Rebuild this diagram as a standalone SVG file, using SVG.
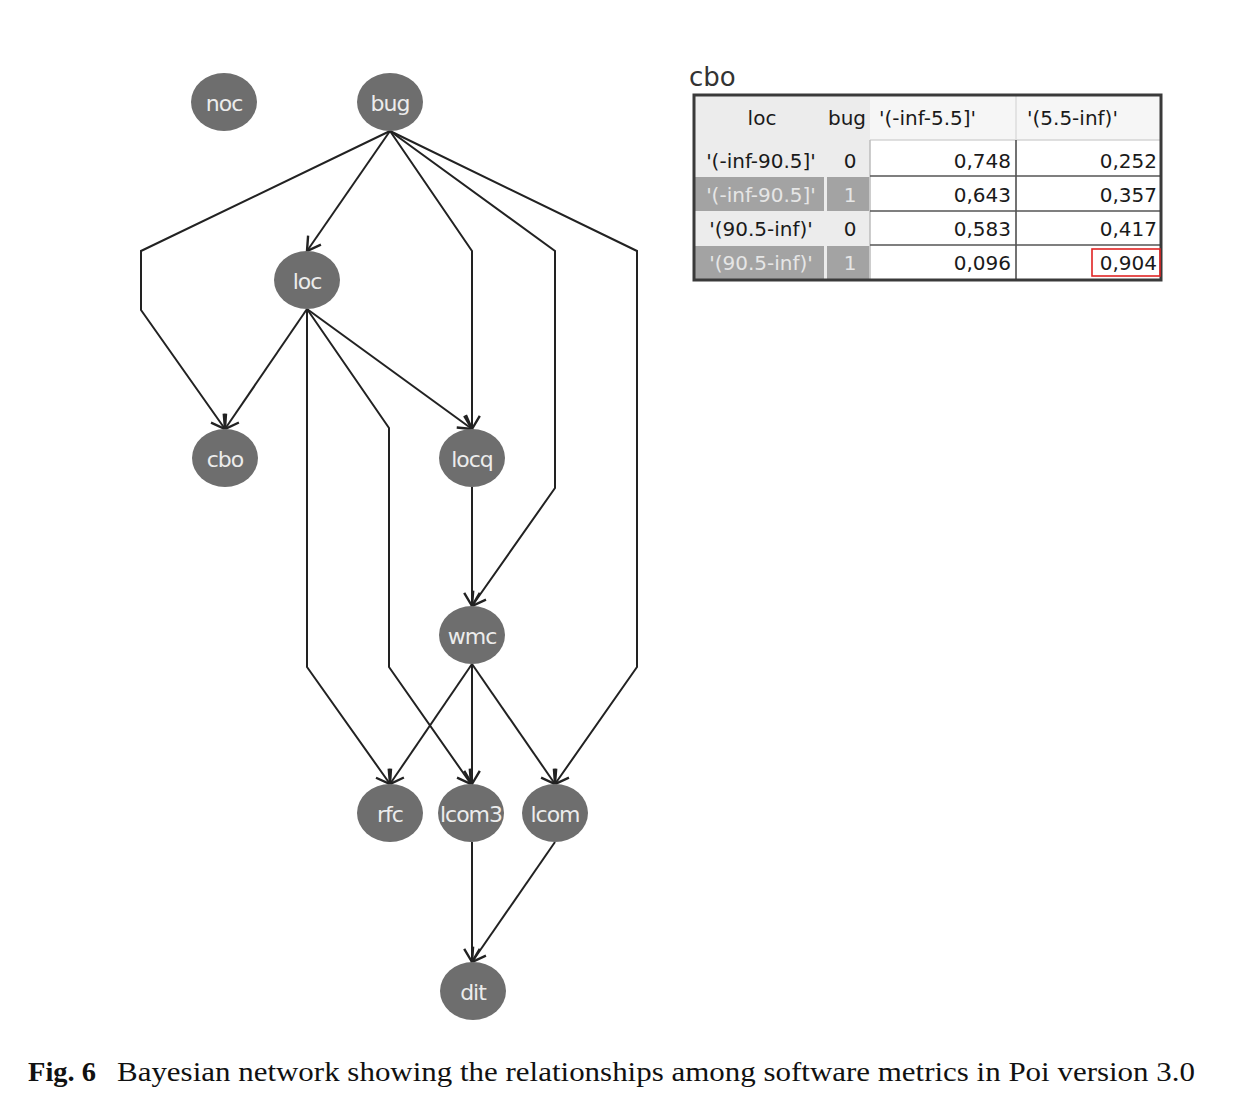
<svg xmlns="http://www.w3.org/2000/svg" width="1248" height="1108" viewBox="0 0 1248 1108">
<defs>
<marker id="arr" markerUnits="userSpaceOnUse" markerWidth="24" markerHeight="24" refX="0" refY="0" viewBox="-14 -10 16 20" orient="auto">
<path d="M-11,-6.5 L0,0 L-11,6.5" fill="none" stroke="#222" stroke-width="2"/>
</marker>
<style>
.edge{fill:none;stroke:#222;stroke-width:2;marker-end:url(#arr)}
.node ellipse{fill:#6e6e6e}
.node text{fill:#ececec;font-family:"DejaVu Sans",sans-serif;font-size:22px;text-anchor:middle;letter-spacing:-1px}
.tt{font-family:"DejaVu Sans",sans-serif;font-size:20px;fill:#1a1a1a}
.tl{font-family:"DejaVu Sans",sans-serif;font-size:20px;fill:#e6e6e6}
.num{font-family:"DejaVu Sans",sans-serif;font-size:20px;fill:#1a1a1a;text-anchor:end}
.cap{font-family:"Liberation Serif",serif;font-size:28px;fill:#111}
</style>
</defs>
<rect width="1248" height="1108" fill="#ffffff"/>

<g id="connectors">
<path class="edge" d="M390,131 L141,251 L141,310 L225,429"/>
<path class="edge" d="M390,131 L307,251"/>
<path class="edge" d="M390,131 L472,251 L472,429"/>
<path class="edge" d="M390,131 L555,251 L555,488 L472,606"/>
<path class="edge" d="M390,131 L637,251 L637,667 L555,784"/>
<path class="edge" d="M307,309 L225,429"/>
<path class="edge" d="M307,309 L472,429"/>
<path class="edge" d="M307,309 L307,667 L390,784"/>
<path class="edge" d="M307,309 L389,428 L389,667 L471,784"/>
<path class="edge" d="M472,487 L472,606"/>
<path class="edge" d="M472,664 L390,784"/>
<path class="edge" d="M472,664 L472,784"/>
<path class="edge" d="M472,664 L555,784"/>
<path class="edge" d="M472,842 L472,962"/>
<path class="edge" d="M555,842 L472,962"/>
</g>

<g id="noc" class="node"><ellipse cx="224" cy="102" rx="33" ry="29"/><text x="224" y="111">noc</text></g>
<g id="bug" class="node"><ellipse cx="390" cy="102" rx="33" ry="29"/><text x="390" y="111">bug</text></g>
<g id="loc" class="node"><ellipse cx="307" cy="280" rx="33" ry="29"/><text x="307" y="289">loc</text></g>
<g id="cbo" class="node"><ellipse cx="225" cy="458" rx="33" ry="29"/><text x="225" y="467">cbo</text></g>
<g id="locq" class="node"><ellipse cx="472" cy="458" rx="33" ry="29"/><text x="472" y="467">locq</text></g>
<g id="wmc" class="node"><ellipse cx="472" cy="635" rx="33" ry="29"/><text x="472" y="644">wmc</text></g>
<g id="rfc" class="node"><ellipse cx="390" cy="813" rx="33" ry="29"/><text x="390" y="822">rfc</text></g>
<g id="lcom3" class="node"><ellipse cx="471" cy="813" rx="33" ry="29"/><text x="471" y="822">lcom3</text></g>
<g id="lcom" class="node"><ellipse cx="555" cy="813" rx="33" ry="29"/><text x="555" y="822">lcom</text></g>
<g id="dit" class="node"><ellipse cx="473" cy="991" rx="33" ry="29"/><text x="473" y="1000">dit</text></g>

<g id="cpt-table">
<text x="689" y="86" font-family="DejaVu Sans, sans-serif" font-size="26" fill="#333">cbo</text>
<rect x="694" y="95" width="467" height="185" fill="#ffffff"/>
<rect x="694" y="95" width="176" height="185" fill="#ececec"/>
<rect x="870" y="95" width="291" height="45" fill="#f6f6f6"/>
<line x1="870" y1="140" x2="1161" y2="140" stroke="#d4d4d4" stroke-width="1.5"/>
<line x1="1016" y1="95" x2="1016" y2="140" stroke="#dddddd" stroke-width="1.5"/>
<rect x="694" y="177" width="130" height="34" fill="#a3a3a3"/>
<rect x="827" y="177" width="42" height="34" fill="#a3a3a3"/>
<rect x="694" y="246" width="130" height="34" fill="#a3a3a3"/>
<rect x="827" y="246" width="42" height="34" fill="#a3a3a3"/>
<line x1="870" y1="140" x2="870" y2="280" stroke="#bdbdbd" stroke-width="1.5"/>
<line x1="1016" y1="140" x2="1016" y2="280" stroke="#444" stroke-width="1.5"/>
<line x1="870" y1="176" x2="1161" y2="176" stroke="#555" stroke-width="1.5"/>
<line x1="870" y1="211" x2="1161" y2="211" stroke="#555" stroke-width="1.5"/>
<line x1="870" y1="245" x2="1161" y2="245" stroke="#555" stroke-width="1.5"/>
<rect x="694" y="95" width="467" height="185" fill="none" stroke="#3a3a3a" stroke-width="3"/>
<text class="tt" x="762" y="125" text-anchor="middle">loc</text>
<text class="tt" x="847" y="125" text-anchor="middle">bug</text>
<text class="tt" x="879" y="125">'(-inf-5.5]'</text>
<text class="tt" x="1027" y="125">'(5.5-inf)'</text>

<text class="tt" x="761" y="168" text-anchor="middle">'(-inf-90.5]'</text>
<text class="tt" x="850" y="168" text-anchor="middle">0</text>
<text class="num" x="1011" y="168">0,748</text>
<text class="num" x="1157" y="168">0,252</text>

<text class="tl" x="761" y="202" text-anchor="middle">'(-inf-90.5]'</text>
<text class="tl" x="850" y="202" text-anchor="middle">1</text>
<text class="num" x="1011" y="202">0,643</text>
<text class="num" x="1157" y="202">0,357</text>

<text class="tt" x="761" y="236" text-anchor="middle">'(90.5-inf)'</text>
<text class="tt" x="850" y="236" text-anchor="middle">0</text>
<text class="num" x="1011" y="236">0,583</text>
<text class="num" x="1157" y="236">0,417</text>

<text class="tl" x="761" y="270" text-anchor="middle">'(90.5-inf)'</text>
<text class="tl" x="850" y="270" text-anchor="middle">1</text>
<text class="num" x="1011" y="270">0,096</text>
<text class="num" x="1157" y="270">0,904</text>
<rect x="1092" y="249" width="68" height="27" fill="none" stroke="#e02424" stroke-width="1.6"/>
</g>

<g id="caption">
<text class="cap" x="28" y="1081" font-weight="bold" textLength="68" lengthAdjust="spacingAndGlyphs">Fig. 6</text>
<text class="cap" x="117" y="1081" textLength="1078" lengthAdjust="spacingAndGlyphs">Bayesian network showing the relationships among software metrics in Poi version 3.0</text>
</g>
</svg>
